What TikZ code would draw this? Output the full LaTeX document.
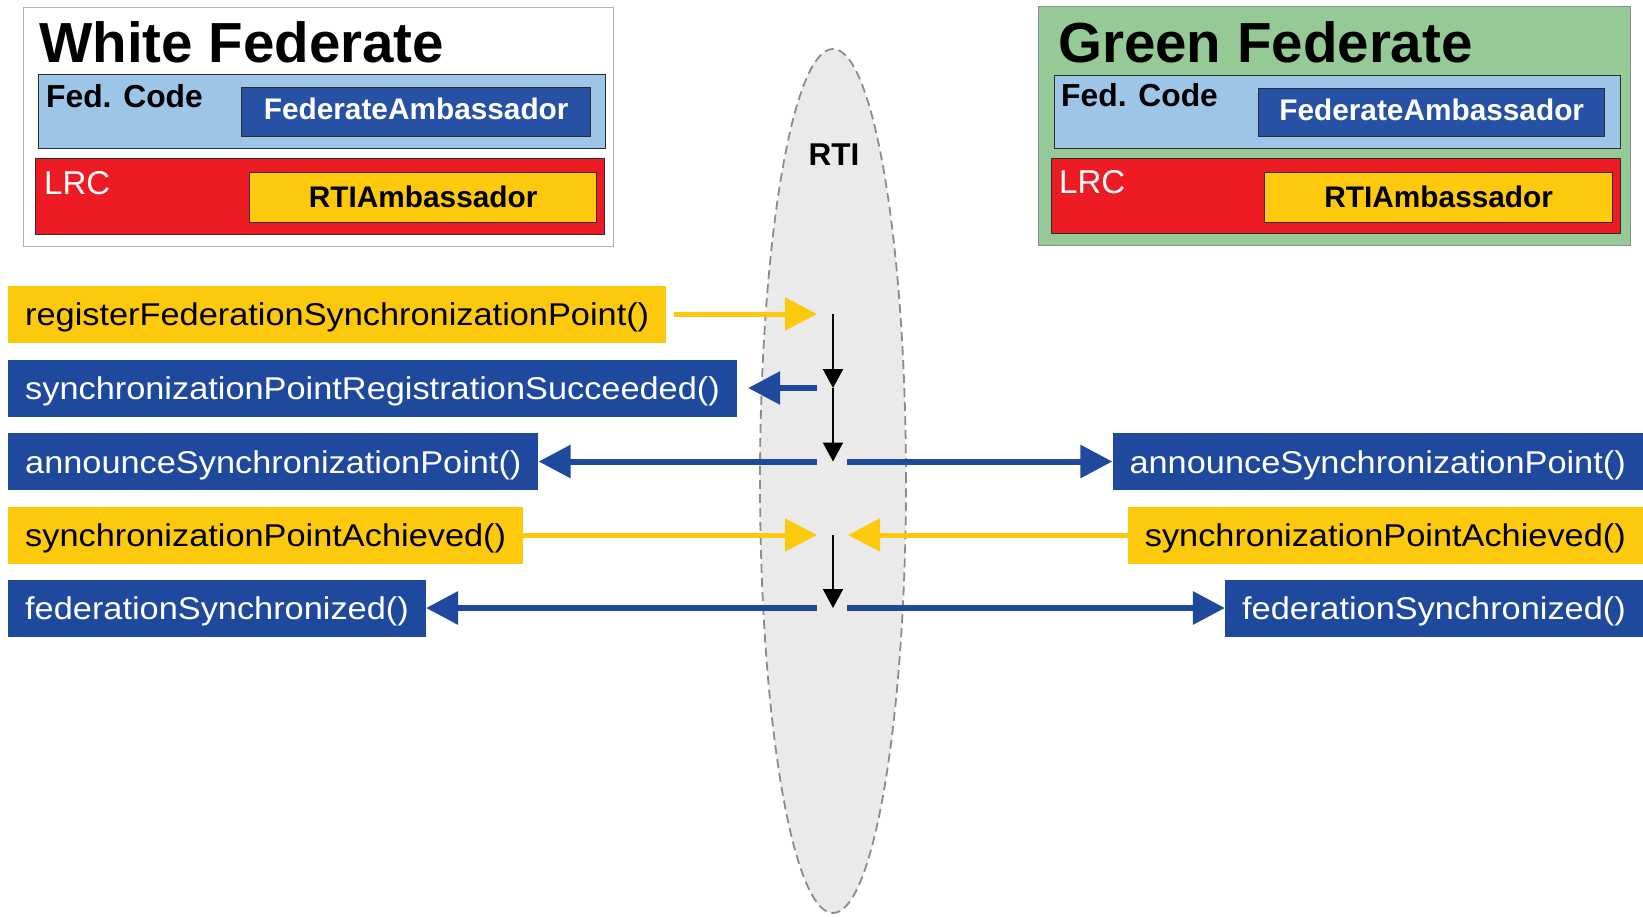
\documentclass[tikz,border=0pt]{standalone}
\usepackage{fontspec}
\usepackage{graphicx}
\setmainfont{Liberation Sans}
\usetikzlibrary{arrows.meta,shapes.geometric}

\definecolor{msgblue}{RGB}{31,73,157}
\definecolor{ambblue}{RGB}{38,81,165}
\definecolor{codeblue}{RGB}{157,197,232}
\definecolor{lrcred}{RGB}{237,28,36}
\definecolor{ambyellow}{RGB}{252,201,12}
\definecolor{fedgreen}{RGB}{149,201,149}
\definecolor{rtigray}{RGB}{234,234,234}
\definecolor{rtiedge}{RGB}{140,140,140}
\definecolor{boxedge}{RGB}{45,45,45}

% message labels are set slightly wide
\newcommand\widetext[1]{\scalebox{1.09}[1]{#1}}

\tikzset{
  panel/.style={rectangle, inner sep=0pt, anchor=north west},
  inbox/.style={panel, draw=boxedge, line width=1.4pt},
  msg/.style={rectangle, inner xsep=17pt, inner ysep=0pt, minimum height=57pt,
    text height=27pt, text depth=4pt, font=\fontsize{31.5}{36}\selectfont},
  ymsg/.style={msg, fill=ambyellow, text=black},
  bmsg/.style={msg, fill=msgblue, text=white},
  title/.style={anchor=base west, inner sep=0pt, font=\bfseries\fontsize{56.5}{60}\selectfont},
  tag/.style={anchor=base west, inner sep=0pt},
  ambfont/.style={font=\bfseries\fontsize{29.8}{34}\selectfont},
  yarrow/.style={draw=ambyellow, line width=5pt, -{Triangle[length=32pt,width=32pt]}},
  barrow/.style={draw=msgblue, line width=6pt, -{Triangle[length=32pt,width=32pt]}},
  karrow/.style={draw=black, line width=2.2pt, -{Triangle[length=19pt,width=20pt]}},
}

\begin{document}
\begin{tikzpicture}[x=1pt, y=-1pt]
\useasboundingbox (0,0) rectangle (1643,916);

% RTI bus
\node[ellipse, draw=rtiedge, fill=rtigray, line width=1.8pt, dash pattern=on 9pt off 5pt,
  minimum width=146pt, minimum height=864pt, inner sep=0pt] (rti) at (833,481) {};
\node[anchor=base, inner sep=0pt, font=\bfseries\fontsize{31.5}{36}\selectfont] (rtilabel) at (834,165) {RTI};

% White federate
\node[panel, fill=white, draw=black!30, line width=1.2pt, minimum width=590pt, minimum height=239pt] (wfed) at (23,7) {};
\node[title] (wtitle) at (39,62) {White Federate};
\node[inbox, fill=codeblue, minimum width=567pt, minimum height=74pt] (wcode) at (38,74) {};
\node[tag, font=\bfseries\fontsize{31.8}{36}\selectfont] (wcodetag) at (46,107) {Fed. Code};
\node[inbox, fill=ambblue, text=white, ambfont, minimum width=349pt, minimum height=49pt,
  text height=21pt, text depth=6pt] (wfa) at (241,87) {FederateAmbassador};
\node[inbox, fill=lrcred, minimum width=569pt, minimum height=76pt] (wlrc) at (35,158) {};
\node[tag, text=white, font=\fontsize{33}{36}\selectfont] (wlrctag) at (44,194) {LRC};
\node[inbox, fill=ambyellow, ambfont, minimum width=347pt, minimum height=50pt,
  text height=23pt, text depth=4pt] (wra) at (249,172) {RTIAmbassador};

% Green federate
\node[panel, fill=fedgreen, draw=black!45, line width=1pt, minimum width=592pt, minimum height=239pt] (gfed) at (1038,6) {};
\node[title] (gtitle) at (1058,62) {Green Federate};
\node[inbox, fill=codeblue, minimum width=566pt, minimum height=73pt] (gcode) at (1054,75) {};
\node[tag, font=\bfseries\fontsize{31.8}{36}\selectfont] (gcodetag) at (1061,106) {Fed. Code};
\node[inbox, fill=ambblue, text=white, ambfont, minimum width=346pt, minimum height=48pt,
  text height=21pt, text depth=6pt] (gfa) at (1258,88) {FederateAmbassador};
\node[inbox, fill=lrcred, minimum width=569pt, minimum height=75pt] (glrc) at (1051,158) {};
\node[tag, text=white, font=\fontsize{33}{36}\selectfont] (glrctag) at (1059,193) {LRC};
\node[inbox, fill=ambyellow, ambfont, minimum width=348pt, minimum height=50pt,
  text height=23pt, text depth=4pt] (gra) at (1264,172) {RTIAmbassador};

% service calls of the white federate
\node[ymsg, anchor=west] (m1) at (8,314) {\widetext{registerFederationSynchronizationPoint()}};
\node[bmsg, anchor=west] (m2) at (8,388) {\widetext{synchronizationPointRegistrationSucceeded()}};
\node[bmsg, anchor=west] (m3) at (8,461.5) {\widetext{announceSynchronizationPoint()}};
\node[ymsg, anchor=west] (m4) at (8,535) {\widetext{synchronizationPointAchieved()}};
\node[bmsg, anchor=west] (m5) at (8,608) {\widetext{federationSynchronized()}};

% service calls of the green federate
\node[bmsg, anchor=east] (n3) at (1643,461.5) {\widetext{announceSynchronizationPoint()}};
\node[ymsg, anchor=east] (n4) at (1643,535) {\widetext{synchronizationPointAchieved()}};
\node[bmsg, anchor=east] (n5) at (1643,608) {\widetext{federationSynchronized()}};

% points on the RTI time line
\coordinate (j1) at (833,314);
\coordinate (j2) at (833,388);
\coordinate (j3) at (833,461.5);
\coordinate (j4) at (833,535);
\coordinate (j5) at (833,608);

% calls and callbacks
\draw[yarrow] ([xshift=8pt]m1.east) -- ([xshift=-16pt]j1);
\draw[barrow] ([xshift=-16pt]j2) -- ([xshift=11pt]m2.east);
\draw[barrow] ([xshift=-16pt]j3) -- (m3.east);
\draw[barrow] ([xshift=14pt]j3) -- (n3.west);
\draw[yarrow] (m4.east) -- ([xshift=-16pt]j4);
\draw[yarrow] (n4.west) -- ([xshift=15pt]j4);
\draw[barrow] ([xshift=-16pt]j5) -- (m5.east);
\draw[barrow] ([xshift=14pt]j5) -- (n5.west);

% RTI internal sequence
\draw[karrow] (j1) -- (j2);
\draw[karrow] (j2) -- (j3);
\draw[karrow] (j4) -- (j5);
\end{tikzpicture}
\end{document}
